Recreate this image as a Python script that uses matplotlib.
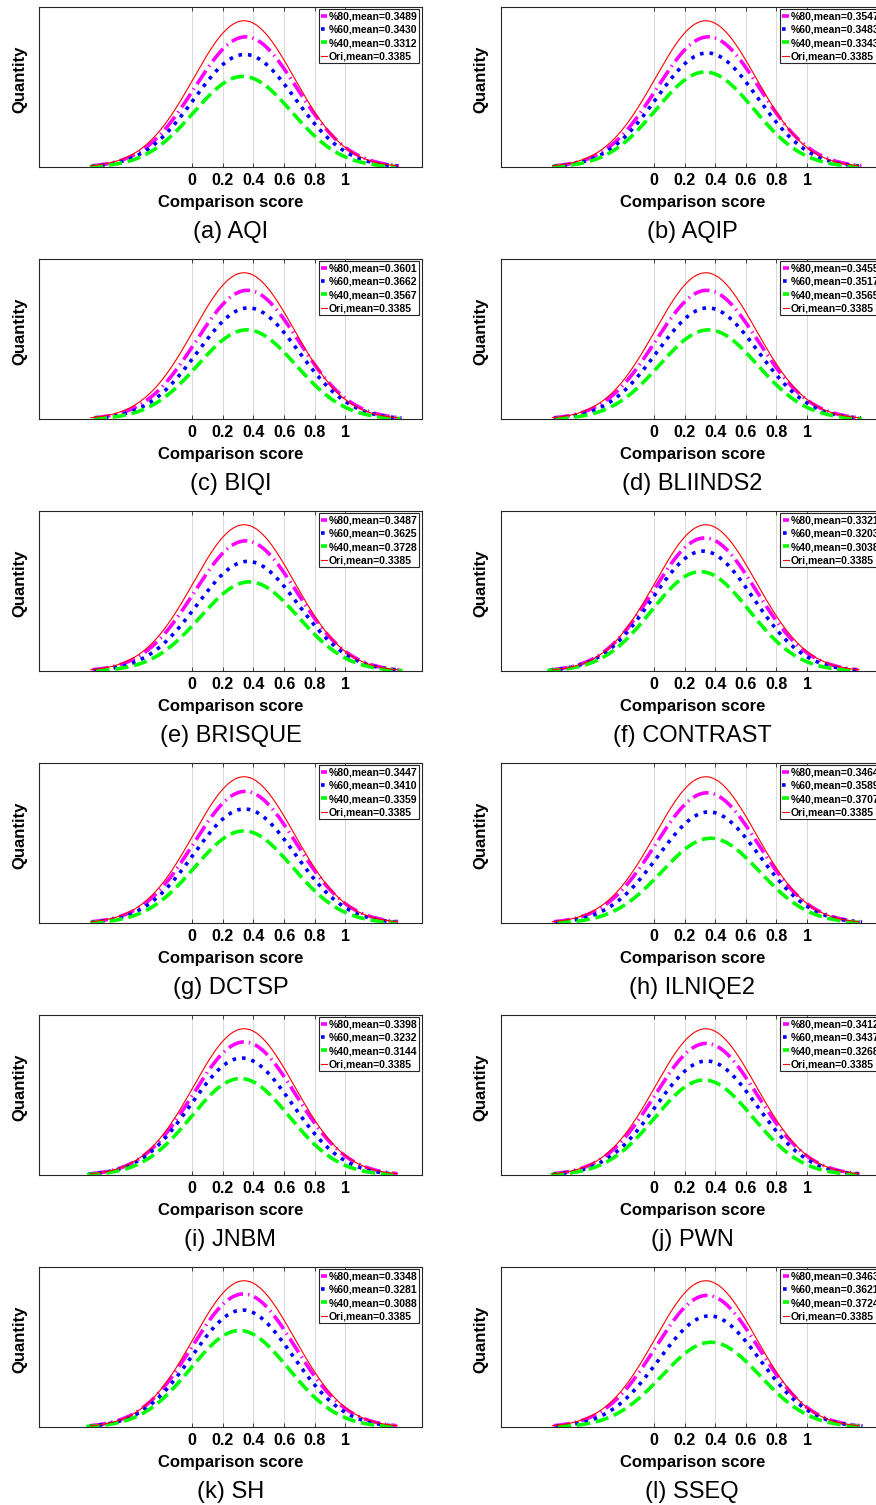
import numpy as np
import matplotlib
matplotlib.use('Agg')
import matplotlib.pyplot as plt

plt.rcParams['font.family'] = ['Liberation Sans', 'DejaVu Sans']

# panel captions, in reading order (left column, right column)
captions = ['(a) AQI', '(b) AQIP', '(c) BIQI', '(d) BLIINDS2', '(e) BRISQUE', '(f) CONTRAST',
            '(g) DCTSP', '(h) ILNIQE2', '(i) JNBM', '(j) PWN', '(k) SH', '(l) SSEQ']

# means printed in the legends
mean80 = [0.3489, 0.3547, 0.3601, 0.3455, 0.3487, 0.3321, 0.3447, 0.3464, 0.3398, 0.3412, 0.3348, 0.3463]
mean60 = [0.3430, 0.3483, 0.3662, 0.3517, 0.3625, 0.3203, 0.3410, 0.3589, 0.3232, 0.3437, 0.3281, 0.3621]
mean40 = [0.3312, 0.3343, 0.3567, 0.3565, 0.3728, 0.3038, 0.3359, 0.3707, 0.3144, 0.3268, 0.3088, 0.3724]
mean_ori = 0.3385

# peak heights (Ori peak = 1)
peak80 = [0.89, 0.89, 0.88, 0.88, 0.89, 0.91, 0.90, 0.89, 0.91, 0.90, 0.91, 0.90]
peak60 = [0.77, 0.78, 0.76, 0.76, 0.75, 0.82, 0.78, 0.76, 0.80, 0.78, 0.80, 0.76]
peak40 = [0.62, 0.65, 0.61, 0.61, 0.61, 0.68, 0.63, 0.58, 0.66, 0.65, 0.66, 0.58]
peak_ori = 1.0

# spread of the fitted curves (read from the widths)
sigma80, sigma60, sigma40, sigma_ori = 0.335, 0.33, 0.32, 0.33
half_span = 1.0   # each curve is drawn over mean +- this

xticks = [0, 0.2, 0.4, 0.6, 0.8, 1]
xtick_labels = ['0', '0.2', '0.4', '0.6', '0.8', '1']


def bell(mu, sigma, peak):
    x = np.linspace(mu - half_span, mu + half_span, 300)
    return x, peak * np.exp(-(x - mu) ** 2 / (2 * sigma ** 2))


W, H = 876, 1505
fig = plt.figure(figsize=(W / 100, H / 100), dpi=100)

ax_w, ax_h = 383, 160.5
lefts = [39, 500.7]

for k, cap in enumerate(captions):
    row, col = k // 2, k % 2
    top = 6.7 + 252 * row
    ax = fig.add_axes([lefts[col] / W, 1 - (top + ax_h) / H, ax_w / W, ax_h / H])

    series = [
        (mean80[k], sigma80, peak80[k], (0, (4.5, 1.4, 0.4, 1.4)), '#ff00ff', 2.6, '%%80,mean=%.4f' % mean80[k]),
        (mean60[k], sigma60, peak60[k], ':', '#0000ff', 2.6, '%%60,mean=%.4f' % mean60[k]),
        (mean40[k], sigma40, peak40[k], '--', '#00ff00', 2.6, '%%40,mean=%.4f' % mean40[k]),
        (mean_ori, sigma_ori, peak_ori, '-', '#ff0000', 0.8, 'Ori,mean=%.4f' % mean_ori),
    ]
    for mu, s, p, ls, c, lw, lab in series:
        x, y = bell(mu, s, p)
        ax.plot(x, y, linestyle=ls, color=c, lw=lw, label=lab)

    ax.set_xlim(-1.0, 1.5)
    ax.set_ylim(0, 1.096)
    ax.set_xticks(xticks)
    ax.set_xticklabels(xtick_labels, fontsize=11.5, fontweight='bold')
    ax.set_yticks([])
    ax.tick_params(axis='x', direction='in', length=3, width=0.6, pad=4.5,
                   top=True, color='#262626')
    ax.grid(axis='x', color='#d9d9d9', lw=0.7)
    ax.set_axisbelow(True)
    for sp in ax.spines.values():
        sp.set_color('#262626')
        sp.set_linewidth(0.8)

    ax.text(0.5, -(202 - 167.2) / ax_h, 'Comparison score', transform=ax.transAxes,
            ha='center', va='center', fontsize=12, fontweight='bold')
    ax.text(-19.5 / ax_w, 0.55, 'Quantity', transform=ax.transAxes, rotation=90,
            ha='center', va='center', fontsize=12, fontweight='bold')
    ax.text(0.5, -(232 - 167.2) / ax_h, cap, transform=ax.transAxes,
            ha='center', va='center', fontsize=17)

    leg = ax.legend(loc='upper right', bbox_to_anchor=(1.0, 1.0), borderaxespad=0.25,
                    prop={'size': 7.5, 'weight': 'bold'}, handlelength=0.6,
                    handletextpad=0.15, labelspacing=0.32, borderpad=0.2,
                    fancybox=False, framealpha=1, edgecolor='#262626')
    leg.get_frame().set_linewidth(0.8)

fig.savefig('out.png', dpi=100)
